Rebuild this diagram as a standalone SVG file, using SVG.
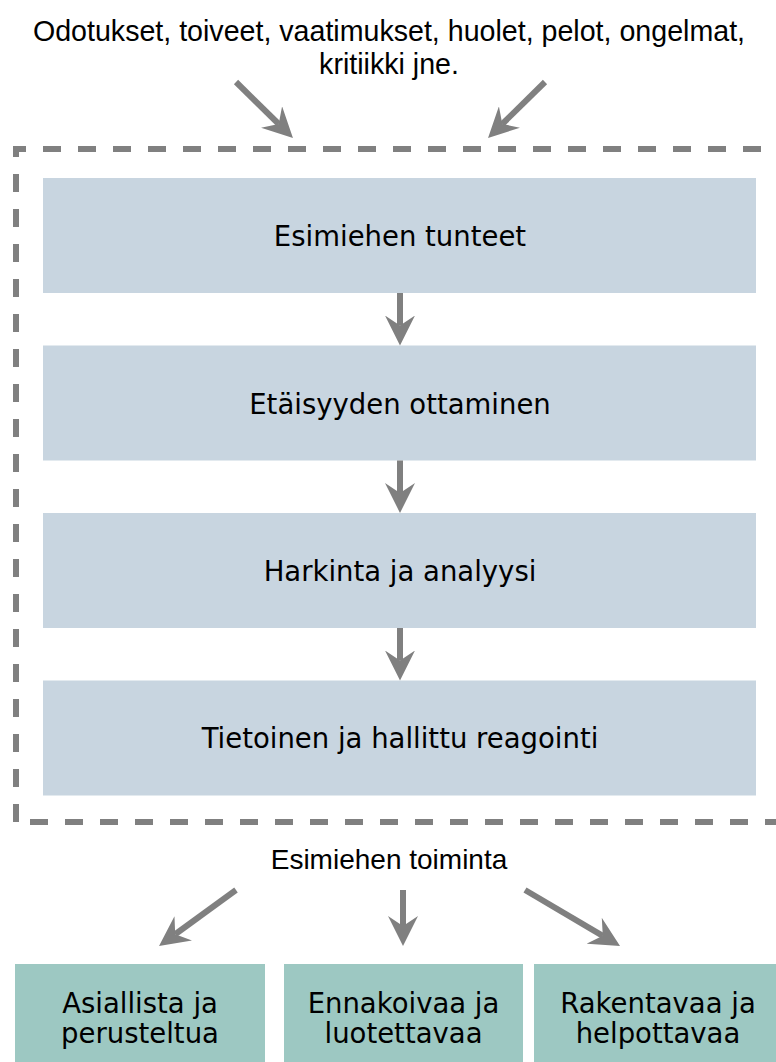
<svg xmlns="http://www.w3.org/2000/svg" width="776" height="1062" viewBox="0 0 776 1062">
  <style>
    .caption { font-family: "Liberation Sans", Arial, sans-serif; font-size: 28px; fill: #000; text-anchor: middle; }
    .caption.wide { font-size: 28.6px; }
    .label { font-family: "DejaVu Sans", Verdana, sans-serif; font-size: 27.5px; fill: #000; text-anchor: middle; }
    .step { fill: #c8d5e0; }
    .result { fill: #9dc8c2; }
    .conn { stroke: #808080; stroke-width: 6; fill: none; marker-end: url(#head); }
    .frame { fill: none; stroke: #808080; stroke-width: 6; stroke-dasharray: 18 17; }
  </style>
  <defs>
    <marker id="head" markerUnits="userSpaceOnUse" markerWidth="30" markerHeight="30" refX="10" refY="15" orient="auto" viewBox="0 0 30 30">
      <path d="M30,15 L0,0 L10,15 L0,30 Z" fill="#808080"/>
    </marker>
  </defs>
  <rect width="776" height="1062" fill="#fff"/>

  <g id="inputs">
    <text class="caption wide" x="389" y="41">Odotukset, toiveet, vaatimukset, huolet, pelot, ongelmat,</text>
    <text class="caption wide" x="389" y="74">kritiikki jne.</text>
  </g>

  <!-- dashed frame around the processing steps; its right edge lies past the canvas -->
  <g id="process-frame">
    <path class="frame" d="M16,822 L16,149 L786,149 M30,822 L786,822"/>
  </g>

  <g id="step-feelings">
    <rect class="step" x="43" y="178" width="713" height="115"/>
    <text class="label" x="400" y="246">Esimiehen tunteet</text>
  </g>
  <g id="step-distance">
    <rect class="step" x="43" y="345.5" width="713" height="115"/>
    <text class="label" x="400" y="413.5">Etäisyyden ottaminen</text>
  </g>
  <g id="step-analysis">
    <rect class="step" x="43" y="513" width="713" height="115"/>
    <text class="label" x="400" y="581">Harkinta ja analyysi</text>
  </g>
  <g id="step-reaction">
    <rect class="step" x="43" y="680.5" width="713" height="115"/>
    <text class="label" x="400" y="748">Tietoinen ja hallittu reagointi</text>
  </g>

  <g id="action">
    <text class="caption" x="389" y="869">Esimiehen toiminta</text>
  </g>

  <g id="result-factual">
    <rect class="result" x="15" y="964" width="250" height="110"/>
    <text class="label" x="140" y="1013">Asiallista ja</text>
    <text class="label" x="140" y="1043">perusteltua</text>
  </g>
  <g id="result-proactive">
    <rect class="result" x="284" y="964" width="239" height="110"/>
    <text class="label" x="403.5" y="1013">Ennakoivaa ja</text>
    <text class="label" x="403.5" y="1043">luotettavaa</text>
  </g>
  <g id="result-constructive">
    <rect class="result" x="534" y="964" width="248" height="110"/>
    <text class="label" x="658" y="1013">Rakentavaa ja</text>
    <text class="label" x="658" y="1043">helpottavaa</text>
  </g>

  <g id="connectors">
    <line class="conn" x1="236" y1="82" x2="278.7" y2="124"/>
    <line class="conn" x1="545" y1="82" x2="502.3" y2="124"/>
    <line class="conn" x1="400" y1="293" x2="400" y2="325.5"/>
    <line class="conn" x1="400" y1="460.5" x2="400" y2="493"/>
    <line class="conn" x1="400" y1="628" x2="400" y2="660.5"/>
    <line class="conn" x1="236" y1="890" x2="175.2" y2="934.2"/>
    <line class="conn" x1="403" y1="890" x2="403" y2="926"/>
    <line class="conn" x1="525" y1="890" x2="602.8" y2="935.8"/>
  </g>
</svg>
